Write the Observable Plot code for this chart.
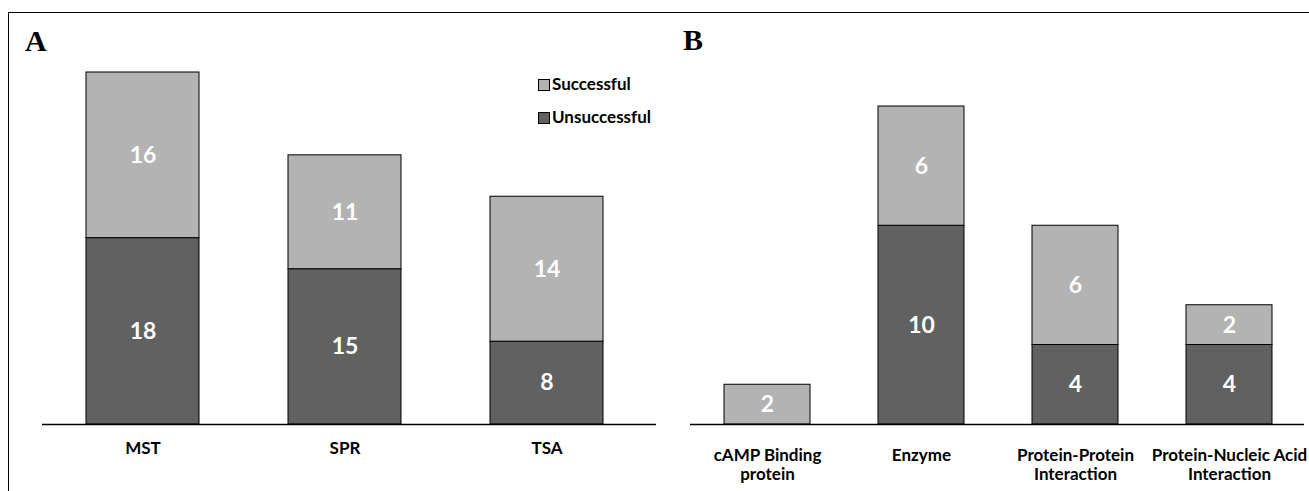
<!DOCTYPE html>
<html>
<head>
<meta charset="utf-8">
<script src="https://cdn.jsdelivr.net/npm/d3@7"></script>
<script src="https://cdn.jsdelivr.net/npm/@observablehq/plot@0.6"></script>
<style>
  html, body { margin: 0; padding: 0; background: #fff; }
  #root { position: relative; width: 1309px; height: 491px; overflow: hidden; background: #fff; }
  .frame { position: absolute; left: 8px; top: 12px; width: 1400px; height: 600px;
           border-top: 1.5px solid #000; border-left: 1.5px solid #000; }
  .panel { position: absolute; top: 0; }
  .plabel { position: absolute; font-family: "Liberation Serif", "Times New Roman", serif;
            font-weight: bold; font-size: 30px; line-height: 30px; color: #000; }
  .legend { position: absolute; font-family: Lato, sans-serif; font-weight: bold; font-size: 17px; color: #000; }
  .legend .item { position: absolute; white-space: nowrap; line-height: 17px; }
  .legend .sw { position: absolute; width: 10px; height: 10px; border: 1px solid #000; }
  .legend .tx { position: absolute; left: 14px; top: -4px; }
</style>
</head>
<body>
<div id="root">
  <div class="frame"></div>
</div>
<script>
const seriesNames = ["Unsuccessful", "Successful"];
const seriesColors = ["#606160", "#b3b3b3"];

const categoriesA = ["MST", "SPR", "TSA"];
const successfulA = [16, 11, 14];
const unsuccessfulA = [18, 15, 8];

const categoriesB = ["cAMP Binding\nprotein", "Enzyme", "Protein-Protein\nInteraction", "Protein-Nucleic Acid\nInteraction"];
const successfulB = [2, 6, 6, 2];
const unsuccessfulB = [0, 10, 4, 4];

const legendOrder = ["Successful", "Unsuccessful"];

function rowsFor(cats, succ, unsucc) {
  const rows = [];
  cats.forEach((c, i) => {
    rows.push({cat: c, status: "Unsuccessful", value: unsucc[i]});
    rows.push({cat: c, status: "Successful", value: succ[i]});
  });
  return rows.filter(d => d.value > 0);
}

function panel(cats, succ, unsucc, cfg) {
  const rows = rowsFor(cats, succ, unsucc);
  return Plot.plot({
    width: cfg.width,
    height: 491,
    marginLeft: cfg.marginLeft,
    marginRight: cfg.marginRight,
    marginTop: 0,
    marginBottom: 67,
    x: {domain: cats, range: cfg.xRange, paddingInner: 0.44, paddingOuter: 0.22, label: null},
    y: {domain: cfg.yDomain, range: [424, cfg.yTop], axis: null},
    color: {domain: seriesNames, range: seriesColors},
    style: {fontFamily: "Lato, sans-serif", fontSize: "17px", color: "#000", background: "transparent", overflow: "visible"},
    marks: [
      Plot.barY(rows, {x: "cat", y: "value", z: "status", fill: "status", stroke: "#000", strokeWidth: 1}),
      Plot.text(rows, Plot.stackY({x: "cat", y: "value", z: "status", text: d => String(d.value),
        fill: "white", fontSize: 23, fontWeight: "bold"})),
      Plot.ruleY([0], {stroke: "#000", strokeWidth: 1.3}),
      Plot.axisX({tickSize: 0, tickPadding: cfg.tickPadding, fontSize: 17, fontWeight: "bold",
        lineHeight: 1.12, fill: "#000", label: null})
    ]
  });
}

const root = document.getElementById("root");

const svgA = panel(categoriesA, successfulA, unsuccessfulA, {
  width: 670, marginLeft: 42, marginRight: 14, xRange: [42, 648], yDomain: [0, 34], yTop: 72, tickPadding: 16
});
const wrapA = document.createElement("div");
wrapA.className = "panel"; wrapA.style.left = "0px";
wrapA.appendChild(svgA);
root.appendChild(wrapA);

const svgB = panel(categoriesB, successfulB, unsuccessfulB, {
  width: 639, marginLeft: 20, marginRight: 5, xRange: [20, 636], yDomain: [0, 16], yTop: 106, tickPadding: 23
});
const wrapB = document.createElement("div");
wrapB.className = "panel"; wrapB.style.left = "670px";
wrapB.appendChild(svgB);
root.appendChild(wrapB);

// panel letters
[["A", 25, 26], ["B", 683, 25]].forEach(([t, x, y]) => {
  const d = document.createElement("div");
  d.className = "plabel"; d.textContent = t;
  d.style.left = x + "px"; d.style.top = y + "px";
  root.appendChild(d);
});

// legend
const leg = document.createElement("div");
leg.className = "legend";
leg.style.left = "538px"; leg.style.top = "79px";
legendOrder.forEach((name, i) => {
  const item = document.createElement("div");
  item.className = "item";
  item.style.top = (i * 33) + "px";
  const sw = document.createElement("div");
  sw.className = "sw";
  sw.style.background = seriesColors[seriesNames.indexOf(name)];
  const tx = document.createElement("div");
  tx.className = "tx"; tx.textContent = name;
  item.appendChild(sw); item.appendChild(tx);
  leg.appendChild(item);
});
root.appendChild(leg);
</script>
</body>
</html>
